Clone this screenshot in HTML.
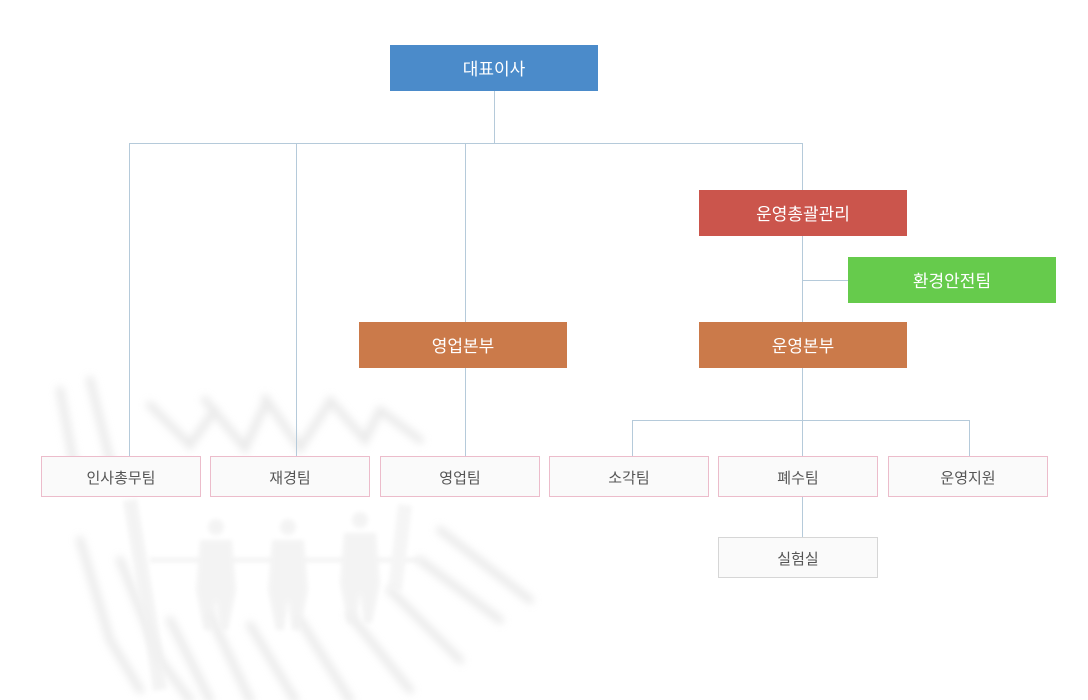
<!DOCTYPE html>
<html><head><meta charset="utf-8">
<style>
html,body{margin:0;padding:0;background:#fff;}
#c{position:relative;width:1088px;height:700px;overflow:hidden;background:#fff;font-family:"Liberation Sans","Noto Sans CJK KR","NanumGothic",sans-serif;}
.b{position:absolute;width:208px;height:44px;padding-top:2px;line-height:46px;text-align:center;color:#fff;font-size:17px;}
.t{position:absolute;width:158px;height:37px;padding-top:2px;line-height:39px;text-align:center;color:#555;font-size:15px;background:#fafafa;border:1px solid #ecbccb;}
.l{position:absolute;background:#b5cada;}
svg{position:absolute;left:0;top:0;}
</style></head><body><div id="c">
<svg width="1088" height="700" viewBox="0 0 1088 700">
<defs><filter id="bl" x="-20%" y="-20%" width="140%" height="140%"><feGaussianBlur stdDeviation="4"/></filter>
<filter id="bl2" x="-20%" y="-20%" width="140%" height="140%"><feGaussianBlur stdDeviation="2"/></filter></defs>
<g filter="url(#bl)" stroke="#dadada" stroke-width="8" fill="none" stroke-linecap="round" opacity="0.55">
<path d="M150 405 L190 445 L215 410"/>
<path d="M205 400 L245 448 L265 405"/>
<path d="M265 398 L300 448 L330 402"/>
<path d="M330 400 L365 440 L380 410"/>
<path d="M380 410 L420 440"/>
<path d="M60 390 L75 470"/>
<path d="M90 380 L110 460"/>
<path d="M80 540 L110 640 L140 690"/>
<path d="M120 560 L160 660 L190 700"/>
<path d="M170 620 L210 700"/>
<path d="M210 615 L250 700"/>
<path d="M250 625 L295 700"/>
<path d="M300 620 L350 700"/>
<path d="M350 615 L410 690"/>
<path d="M390 590 L460 660"/>
<path d="M420 560 L500 620"/>
<path d="M440 530 L530 600"/>
</g>
<g filter="url(#bl2)" fill="#f1f1f1" opacity="0.8">
<circle cx="216" cy="527" r="8"/><path d="M200 540 L232 540 L236 590 L228 630 L220 630 L216 600 L212 630 L204 630 L196 590Z"/>
<circle cx="288" cy="527" r="8"/><path d="M272 540 L304 540 L308 590 L300 630 L292 630 L288 600 L284 630 L276 630 L268 590Z"/>
<circle cx="360" cy="520" r="8"/><path d="M344 533 L376 533 L380 583 L372 623 L364 623 L360 593 L356 623 L348 623 L340 583Z"/>
<path d="M150 560 L420 560" stroke="#f1f1f1" stroke-width="5"/>
<path d="M130 500 L150 620 L160 690" stroke="#f1f1f1" stroke-width="14" fill="none"/>
<path d="M405 505 L395 590" stroke="#f3f3f3" stroke-width="14" fill="none"/>
</g>
</svg>

<!-- connectors -->
<div class="l" style="left:494px;top:91px;width:1px;height:53px"></div>
<div class="l" style="left:129px;top:143px;width:674px;height:1px"></div>
<div class="l" style="left:129px;top:143px;width:1px;height:313px"></div>
<div class="l" style="left:296px;top:143px;width:1px;height:313px"></div>
<div class="l" style="left:465px;top:143px;width:1px;height:313px"></div>
<div class="l" style="left:802px;top:143px;width:1px;height:313px"></div>
<div class="l" style="left:802px;top:280px;width:46px;height:1px"></div>
<div class="l" style="left:632px;top:420px;width:338px;height:1px"></div>
<div class="l" style="left:632px;top:420px;width:1px;height:36px"></div>
<div class="l" style="left:969px;top:420px;width:1px;height:36px"></div>
<div class="l" style="left:802px;top:496px;width:1px;height:41px"></div>

<!-- colored boxes -->
<div class="b" style="left:390px;top:45px;background:#4b8bca">대표이사</div>
<div class="b" style="left:699px;top:190px;background:#cb554c">운영총괄관리</div>
<div class="b" style="left:848px;top:257px;background:#66cb4c">환경안전팀</div>
<div class="b" style="left:359px;top:322px;background:#cb7a4a">영업본부</div>
<div class="b" style="left:699px;top:322px;background:#cb7a4a">운영본부</div>

<!-- bottom boxes -->
<div class="t" style="left:41px;top:456px">인사총무팀</div>
<div class="t" style="left:210px;top:456px">재경팀</div>
<div class="t" style="left:380px;top:456px">영업팀</div>
<div class="t" style="left:549px;top:456px">소각팀</div>
<div class="t" style="left:718px;top:456px">폐수팀</div>
<div class="t" style="left:888px;top:456px">운영지원</div>
<div class="t" style="left:718px;top:537px;border-color:#d6d6d6">실험실</div>
</div></body></html>
